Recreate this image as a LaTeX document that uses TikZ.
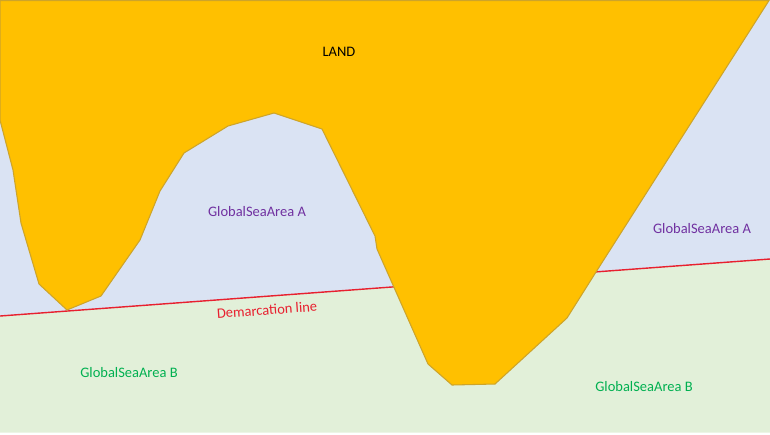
\documentclass[tikz,border=0pt]{standalone}
\usepackage{fontspec}
\setmainfont{Carlito}
\definecolor{landfill}{HTML}{FFC000}
\definecolor{landedge}{HTML}{CDA42A}
\definecolor{seaA}{HTML}{DAE3F3}
\definecolor{seaB}{HTML}{E2F0D9}
\definecolor{seaAtext}{HTML}{7030A0}
\definecolor{seaBtext}{HTML}{00B050}
\definecolor{lineRed}{HTML}{E8202F}

\begin{document}
\begin{tikzpicture}[x=0.02cm,y=-0.02cm]
    \tikzset{
      label/.style={
        inner sep=0pt,
        font=\fontsize{8.25pt}{10pt}\selectfont
      },
      labelA/.style={label, text=seaAtext},
      labelB/.style={label, text=seaBtext}
    };

    \useasboundingbox (0,0) rectangle (770,434);

    \coordinate (lineStart) at (0,316);
    \coordinate (lineEnd) at (770,259);

    % sea areas
    \fill[seaA] (0,0) rectangle (770,316);
    \fill[seaB] (lineStart) -- (lineEnd) -- (770,432.5) -- (0,432.5) -- cycle;

    \draw[lineRed, line width=0.8pt] (lineStart) -- (lineEnd);

    % land on top of the line
    \draw[landedge, fill=landfill, line width=0.6pt]
      (0,0.5) -- (0,120) -- (13,170) -- (21,223) -- (39,284) -- (67,310)
      -- (101,296) -- (140,240) -- (160,191) -- (184,153) -- (228,126)
      -- (274,113) -- (322,129) -- (375,236) -- (377,249) -- (428,364)
      -- (452,385) -- (495,384) -- (567,318) -- (596,272) -- (769,0.5) -- cycle;

    \node [label] (land) at (339,52) {LAND};
    \node [labelA] (seaInner) at (257,212) {GlobalSeaArea A};
    \node [labelA] (seaOuter) at (702,229) {GlobalSeaArea A};
    \node [labelB] (seaLeft) at (129,373) {GlobalSeaArea B};
    \node [labelB] (seaRight) at (644,387) {GlobalSeaArea B};
    \node [label, text=lineRed, rotate=4] (demarcation) at (267,310) {Demarcation line};

  \end{tikzpicture}
\end{document}
